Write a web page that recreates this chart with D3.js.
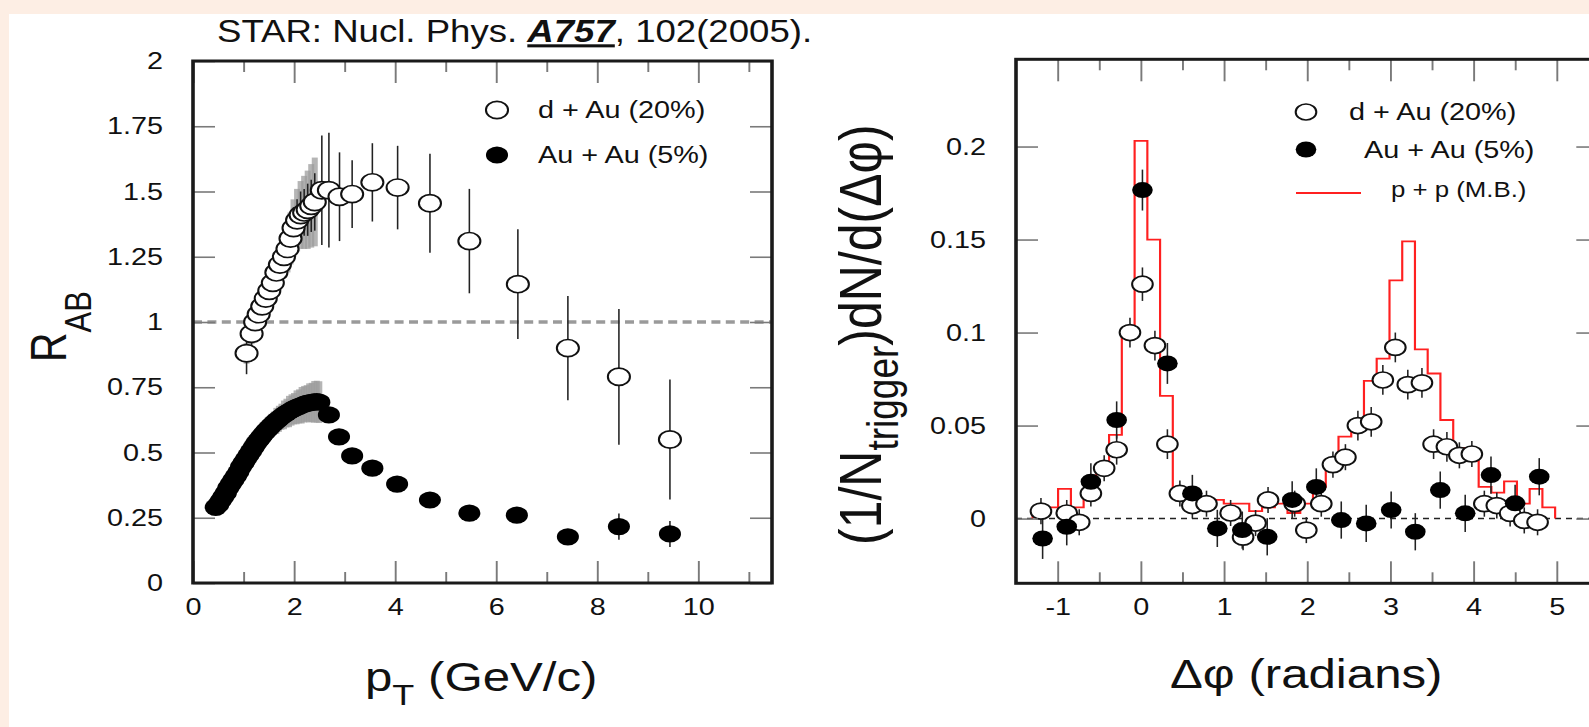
<!DOCTYPE html>
<html><head><meta charset="utf-8">
<script src="https://cdn.jsdelivr.net/npm/d3@7"></script>
<style>
html,body{margin:0;padding:0;background:#fdeee4;overflow:hidden;}
svg{display:block;}
text{font-family:"Liberation Sans",Arial,Helvetica,sans-serif;fill:#111;}
</style></head><body>
<svg id="c" width="1589" height="727"></svg>
<script>
// ---------- DATA ----------
// Left panel: R_AB vs pT
const dAuPt  = [1.06,1.16,1.23,1.30,1.37,1.44,1.51,1.58,1.65,1.72,1.80,1.87,1.93,1.99,2.06,2.13,2.20,2.27,2.34,2.41,2.55,2.69,2.90,3.15,3.55,4.05,4.69,5.47,6.43,7.42,8.43,9.44];
const dAuR   = [0.88,0.955,1.00,1.03,1.06,1.09,1.12,1.15,1.19,1.22,1.25,1.28,1.32,1.36,1.39,1.41,1.42,1.43,1.445,1.46,1.505,1.505,1.48,1.49,1.535,1.515,1.455,1.31,1.145,0.90,0.79,0.55];
const dAuErr = [0.08,0.06,0.06,0.06,0.06,0.06,0.06,0.07,0.07,0.07,0.07,0.08,0.08,0.08,0.08,0.09,0.09,0.10,0.10,0.11,0.21,0.22,0.17,0.13,0.15,0.16,0.19,0.20,0.21,0.20,0.26,0.23];
const dAuSys = [0.04,0.04,0.05,0.05,0.05,0.06,0.06,0.06,0.07,0.07,0.08,0.09,0.10,0.11,0.12,0.13,0.14,0.15,0.16,0.17,0,0,0,0,0,0,0,0,0,0,0,0];

const auPt  = [0.45,0.50,0.55,0.60,0.65,0.70,0.75,0.80,0.85,0.90,0.95,1.00,1.05,1.10,1.15,1.20,1.25,1.30,1.35,1.40,1.45,1.50,1.55,1.60,1.65,1.70,1.75,1.80,1.85,1.90,1.95,2.00,2.05,2.10,2.15,2.20,2.25,2.30,2.35,2.40,2.45,2.50,2.69,2.89,3.15,3.55,4.04,4.69,5.47,6.41,7.42,8.43,9.44];
const auR   = [0.29,0.30,0.315,0.33,0.345,0.365,0.38,0.395,0.41,0.425,0.445,0.46,0.475,0.49,0.505,0.52,0.535,0.548,0.56,0.572,0.583,0.593,0.603,0.612,0.621,0.629,0.637,0.644,0.651,0.657,0.663,0.668,0.673,0.677,0.681,0.685,0.688,0.69,0.692,0.694,0.695,0.693,0.644,0.56,0.487,0.44,0.379,0.318,0.268,0.26,0.177,0.216,0.188];
const auErr = [0.01,0.01,0.01,0.01,0.01,0.01,0.01,0.01,0.01,0.01,0.01,0.01,0.01,0.01,0.01,0.01,0.01,0.01,0.01,0.01,0.01,0.01,0.01,0.01,0.01,0.01,0.01,0.01,0.01,0.01,0.01,0.01,0.01,0.01,0.01,0.01,0.01,0.01,0.01,0.01,0.01,0.01,0.03,0.02,0.02,0.02,0.02,0.02,0.02,0.02,0.03,0.05,0.05];
const auSys = [0.02,0.02,0.02,0.02,0.02,0.02,0.02,0.02,0.025,0.025,0.025,0.03,0.03,0.03,0.03,0.035,0.035,0.035,0.04,0.04,0.04,0.045,0.045,0.045,0.05,0.05,0.05,0.055,0.055,0.06,0.06,0.06,0.065,0.065,0.07,0.07,0.07,0.075,0.075,0.08,0.08,0.08,0,0,0,0,0,0,0,0,0,0,0];

const leftYTicks  = [0,0.25,0.5,0.75,1,1.25,1.5,1.75,2];
const leftYLabels = ["0","0.25","0.5","0.75","1","1.25","1.5","1.75","2"];
const leftXMajor  = [0,2,4,6,8,10];
const leftXLabels = ["0","2","4","6","8","10"];
const leftXMinor  = [1,3,5,7,9,11];

// Right panel: (1/N_trigger) dN/d(Δφ)
const ppEdges = [-1.30,-1.147,-0.994,-0.840,-0.687,-0.534,-0.381,-0.228,-0.074,0.079,0.232,0.385,0.538,0.692,0.845,0.998,1.151,1.304,1.458,1.611,1.764,1.917,2.070,2.224,2.377,2.530,2.683,2.836,2.990,3.143,3.296,3.449,3.602,3.756,3.909,4.062,4.215,4.368,4.522,4.675,4.828,4.981];
const ppVals  = [0.005,0.006,0.016,0.006,0.012,0.025,0.045,0.100,0.203,0.150,0.066,0.012,0.010,0.010,0.010,0.008,0.008,0.004,0.006,0.008,0.003,0.008,0.017,0.028,0.044,0.049,0.074,0.086,0.128,0.149,0.091,0.078,0.053,0.038,0.031,0.017,0.014,0.020,0.008,0.016,0.006];

const dAuPhi = [-1.20,-0.89,-0.74,-0.60,-0.44,-0.29,-0.13,0.02,0.17,0.32,0.47,0.62,0.79,1.08,1.23,1.38,1.53,1.85,1.99,2.17,2.31,2.46,2.61,2.77,2.91,3.06,3.21,3.38,3.52,3.68,3.83,3.98,4.13,4.28,4.44,4.61,4.77];
const dAuC   = [0.004,0.003,-0.002,0.0135,0.027,0.037,0.100,0.126,0.093,0.040,0.0135,0.007,0.008,0.003,-0.010,-0.0024,0.010,0.008,-0.0062,0.008,0.029,0.033,0.050,0.052,0.0745,0.092,0.072,0.073,0.040,0.0386,0.034,0.0347,0.008,0.007,0.0028,-0.001,-0.002];
const dAuCErr= [0.007,0.007,0.007,0.007,0.007,0.008,0.008,0.009,0.008,0.008,0.007,0.007,0.007,0.007,0.007,0.007,0.007,0.007,0.007,0.007,0.007,0.007,0.008,0.008,0.008,0.008,0.008,0.008,0.008,0.008,0.007,0.007,0.007,0.007,0.007,0.007,0.007];

const auPhi = [-1.18,-0.89,-0.60,-0.29,0.02,0.32,0.62,0.92,1.22,1.52,1.82,2.11,2.41,2.71,3.01,3.30,3.60,3.90,4.21,4.50,4.79];
const auC   = [-0.0107,-0.0044,0.0198,0.053,0.1766,0.0834,0.0135,-0.0053,-0.0062,-0.0098,0.010,0.017,-0.0008,-0.0026,0.0046,-0.0071,0.0153,0.0028,0.0234,0.0082,0.0225];
const auCErr= [0.011,0.010,0.010,0.010,0.011,0.011,0.010,0.010,0.010,0.010,0.010,0.010,0.010,0.010,0.010,0.010,0.010,0.010,0.010,0.010,0.010];

const rightYTicks  = [0,0.05,0.1,0.15,0.2];
const rightYLabels = ["0","0.05","0.1","0.15","0.2"];
const rightXMajor  = [-1,0,1,2,3,4,5];
const rightXLabels = ["-1","0","1","2","3","4","5"];
const rightXMinor  = [-0.5,0.5,1.5,2.5,3.5,4.5,5.5];

const legendL = ["d + Au (20%)","Au + Au (5%)"];
const legendR = ["d + Au (20%)","Au + Au (5%)","p + p (M.B.)"];

// ---------- LAYOUT ----------
const W=1589,H=727,SX=1.2;
const px=v=>v/SX;
const svg=d3.select('#c');
svg.append('rect').attr('width',W).attr('height',H).attr('fill','#fdeee4');
svg.append('rect').attr('x',9).attr('y',14).attr('width',W-9).attr('height',H-14).attr('fill','#ffffff');
const g=svg.append('g').attr('transform',`scale(${SX},1)`);

const TICK='#7a7a7a', FONT=24;

function frameAxes(x,y,top,bot,left,right,opt){
  const gg=g.append('g');
  const ab=d3.axisBottom(x).tickValues(opt.xMaj).tickFormat((d,i)=>opt.xLab[i]).tickSize(-22).tickSizeOuter(0).tickPadding(15);
  const gb=gg.append('g').attr('transform',`translate(0,${bot})`).call(ab);
  const abm=d3.axisBottom(x).tickValues(opt.xMin.filter(v=>x(v)<px(W))).tickFormat('').tickSize(-11).tickSizeOuter(0);
  const gbm=gg.append('g').attr('transform',`translate(0,${bot})`).call(abm);
  const at=d3.axisTop(x).tickValues(opt.xMaj).tickFormat('').tickSize(-22).tickSizeOuter(0);
  const gt=gg.append('g').attr('transform',`translate(0,${top})`).call(at);
  const atm=d3.axisTop(x).tickValues(opt.xMin.filter(v=>x(v)<px(W))).tickFormat('').tickSize(-11).tickSizeOuter(0);
  const gtm=gg.append('g').attr('transform',`translate(0,${top})`).call(atm);
  const al=d3.axisLeft(y).tickValues(opt.yT).tickFormat((d,i)=>opt.yLab[i]).tickSize(-px(22)).tickSizeOuter(0).tickPadding(px(30));
  const gl=gg.append('g').attr('transform',`translate(${left},0)`).call(al);
  const ar=d3.axisRight(y).tickValues(opt.yT).tickFormat('').tickSize(-px(22)).tickSizeOuter(0);
  const gr=gg.append('g').attr('transform',`translate(${right},0)`).call(ar);
  [gb,gbm,gt,gtm,gl,gr].forEach(s=>{
    s.select('.domain').remove();
    s.selectAll('line').attr('stroke',TICK).attr('stroke-width',1.6);
    s.selectAll('text').attr('font-size',FONT).attr('fill','#111').attr('font-family','"Liberation Sans",Arial,sans-serif');
  });
  g.append('rect').attr('x',left).attr('y',top).attr('width',right-left).attr('height',bot-top)
    .attr('fill','none').attr('stroke','#1a1a1a').attr('stroke-width',3);
}

function markers(sel,data,x,y,rx,ry,open){
  const m=sel.append('g').selectAll('ellipse').data(data).join('ellipse')
    .attr('cx',d=>x(d.x)).attr('cy',d=>y(d.y)).attr('rx',rx).attr('ry',ry);
  if(open) m.attr('fill','#fff').attr('stroke','#111').attr('stroke-width',1.7);
  else m.attr('fill','#000');
}

// ---------- LEFT PANEL ----------
const Lleft=px(193),Lright=px(772),Ltop=61,Lbot=583;
const xL=d3.scaleLinear().domain([0,11.46]).range([Lleft,Lright]);
const yL=d3.scaleLinear().domain([0,2]).range([Lbot,Ltop]);

g.append('line').attr('x1',Lleft).attr('x2',Lright).attr('y1',yL(1)).attr('y2',yL(1))
  .attr('stroke','#9a9a9a').attr('stroke-width',3.5).attr('stroke-dasharray','7.5,4.5');

const LRX=9.2, LRY=8.6;
const dAu=dAuPt.map((p,i)=>({x:p,y:dAuR[i],e:dAuErr[i],s:dAuSys[i]}));
const au=auPt.map((p,i)=>({x:p,y:auR[i],e:auErr[i],s:auSys[i]}));
[dAu,au].forEach(arr=>{
  g.append('g').selectAll('rect').data(arr.filter(d=>d.s>0)).join('rect')
    .attr('x',d=>xL(d.x)-2.5).attr('width',5)
    .attr('y',d=>yL(d.y+d.s)).attr('height',d=>yL(d.y-d.s)-yL(d.y+d.s))
    .attr('fill','#9c9c9c').attr('opacity',0.75);
});
[dAu,au].forEach(arr=>{
  g.append('g').selectAll('line').data(arr).join('line')
    .attr('x1',d=>xL(d.x)).attr('x2',d=>xL(d.x))
    .attr('y1',d=>yL(d.y+d.e)).attr('y2',d=>yL(d.y-d.e))
    .attr('stroke','#222').attr('stroke-width',1.3);
});
markers(g,au,xL,yL,LRX,LRY,false);
markers(g,dAu,xL,yL,LRX,LRY,true);

frameAxes(xL,yL,Ltop,Lbot,Lleft,Lright,{xMaj:leftXMajor,xLab:leftXLabels,xMin:leftXMinor,yT:leftYTicks,yLab:leftYLabels});

g.append('ellipse').attr('cx',px(497)).attr('cy',110).attr('rx',LRX).attr('ry',LRY).attr('fill','#fff').attr('stroke','#111').attr('stroke-width',1.7);
g.append('ellipse').attr('cx',px(497)).attr('cy',155).attr('rx',LRX).attr('ry',LRY).attr('fill','#000');
g.append('text').attr('x',px(538)).attr('y',118.5).attr('font-size',FONT).text(legendL[0]);
g.append('text').attr('x',px(538)).attr('y',163.5).attr('font-size',FONT).text(legendL[1]);

// ---------- RIGHT PANEL ----------
const Rleft=px(1016),Rright=px(1598.3),Rtop=59.3,Rbot=583.3;
const xR=d3.scaleLinear().domain([-1.5,5.5]).range([Rleft,Rright]);
const yR=d3.scaleLinear().domain([-0.0348,0.2469]).range([Rbot,Rtop]);

g.append('line').attr('x1',Rleft).attr('x2',Rright).attr('y1',yR(0)).attr('y2',yR(0))
  .attr('stroke','#222').attr('stroke-width',1.5).attr('stroke-dasharray',`${px(6)},${px(5)}`);

const hist=[{x:ppEdges[0],y:0}].concat(ppVals.map((v,i)=>({x:ppEdges[i],y:v}))).concat([{x:ppEdges[ppEdges.length-1],y:0}]);
g.append('path').datum(hist)
  .attr('d',d3.line().x(d=>xR(d.x)).y(d=>yR(d.y)).curve(d3.curveStepAfter))
  .attr('fill','none').attr('stroke','#ff2020').attr('stroke-width',1.8);

const RRX=8.6, RRY=8;
const dAuR2=dAuPhi.map((p,i)=>({x:p,y:dAuC[i],e:dAuCErr[i]}));
const auR2=auPhi.map((p,i)=>({x:p,y:auC[i],e:auCErr[i]}));
[dAuR2,auR2].forEach(arr=>{
  g.append('g').selectAll('line').data(arr).join('line')
    .attr('x1',d=>xR(d.x)).attr('x2',d=>xR(d.x))
    .attr('y1',d=>yR(d.y+d.e)).attr('y2',d=>yR(d.y-d.e))
    .attr('stroke','#222').attr('stroke-width',1.3);
});
markers(g,dAuR2,xR,yR,RRX,RRY,true);
markers(g,auR2,xR,yR,RRX,RRY,false);

frameAxes(xR,yR,Rtop,Rbot,Rleft,Rright,{xMaj:rightXMajor,xLab:rightXLabels,xMin:rightXMinor,yT:rightYTicks,yLab:rightYLabels});

g.append('ellipse').attr('cx',px(1306)).attr('cy',112).attr('rx',RRX).attr('ry',RRY).attr('fill','#fff').attr('stroke','#111').attr('stroke-width',1.7);
g.append('ellipse').attr('cx',px(1306)).attr('cy',149.5).attr('rx',RRX).attr('ry',RRY).attr('fill','#000');
g.append('line').attr('x1',px(1296)).attr('x2',px(1361)).attr('y1',193).attr('y2',193).attr('stroke','#ff2020').attr('stroke-width',2);
g.append('text').attr('x',px(1349)).attr('y',120.5).attr('font-size',FONT).text(legendR[0]);
g.append('text').attr('x',px(1364)).attr('y',158).attr('font-size',FONT).text(legendR[1]);
g.append('text').attr('x',px(1391)).attr('y',197.5).attr('font-size',21.5).text(legendR[2]);

// ---------- TITLES ----------
const t=g.append('text').attr('x',px(217)).attr('y',42.5).attr('font-size',30.5);
t.append('tspan').text('STAR: Nucl. Phys. ');
t.append('tspan').attr('font-weight','bold').attr('font-style','italic').attr('text-decoration','underline').text('A757');
t.append('tspan').text(', 102(2005).');

const xt=g.append('text').attr('x',px(365)).attr('y',691).attr('font-size',41);
xt.append('tspan').text('p');
xt.append('tspan').attr('font-size',30).attr('dy',14).text('T');
xt.append('tspan').attr('dy',-14).text(' (GeV/c)');

g.append('text').attr('x',px(1170)).attr('y',688).attr('font-size',41).text('Δφ (radians)');

const yt=g.append('text').attr('transform',`translate(${px(66)},362) rotate(-90)`).attr('font-size',41);
yt.append('tspan').text('R');
yt.append('tspan').attr('font-size',31).attr('dy',21).text('AB');

const yt2=g.append('text').attr('transform',`translate(${px(881)},545) rotate(-90)`).attr('font-size',50);
yt2.append('tspan').text('(1/N');
yt2.append('tspan').attr('font-size',37).attr('dy',14).text('trigger');
yt2.append('tspan').attr('dy',-14).text(')dN/d(Δφ)');
</script>
</body></html>
